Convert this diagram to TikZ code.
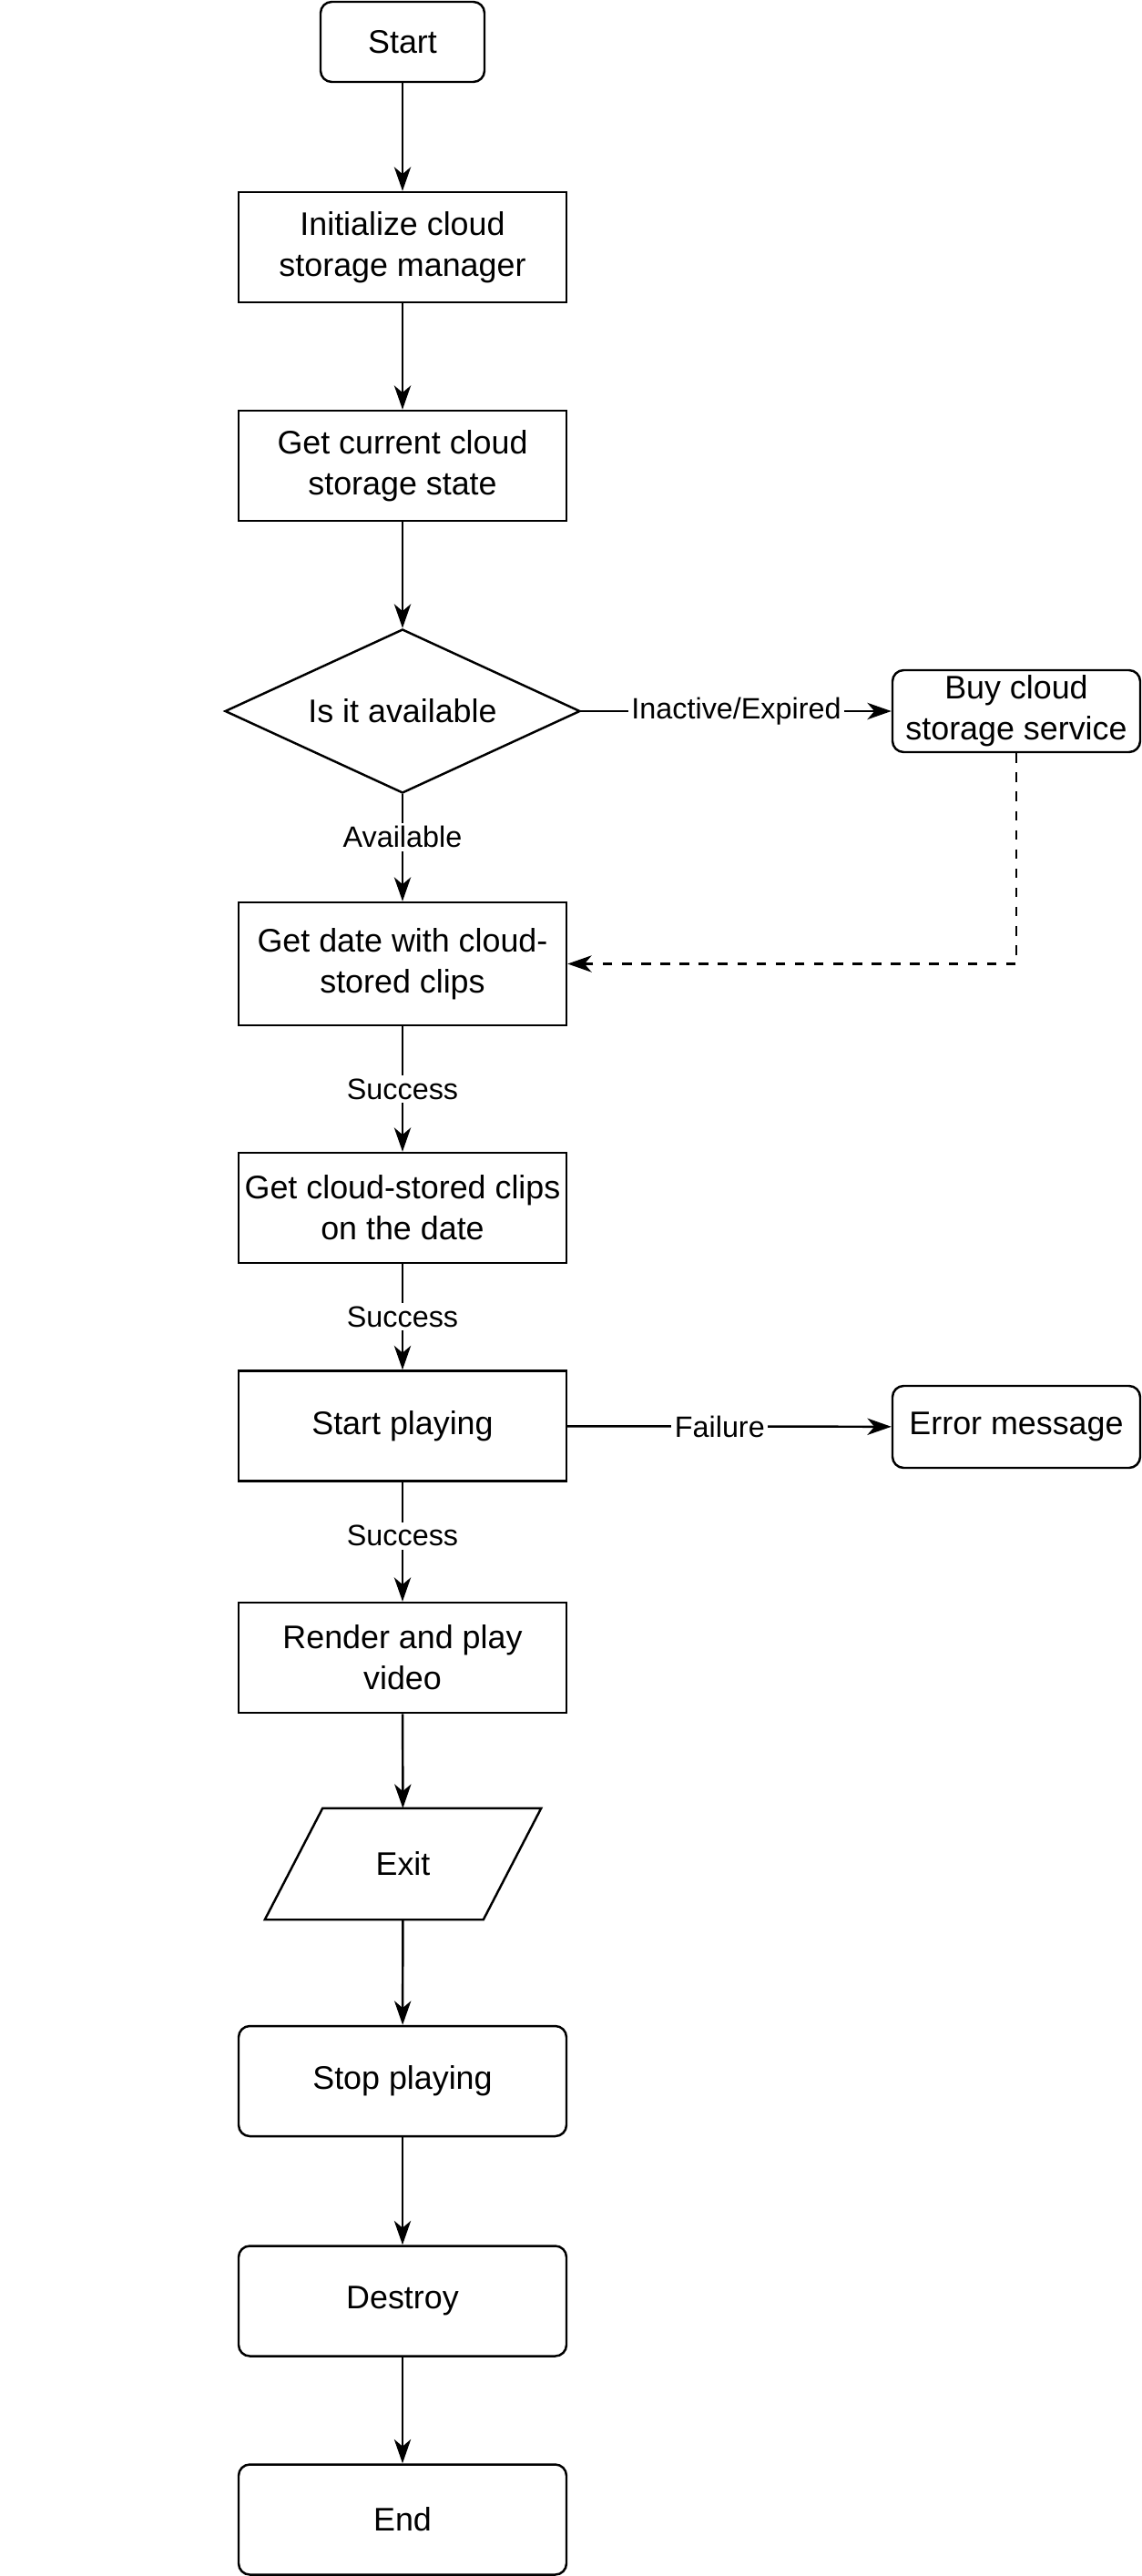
\documentclass[tikz,border=0pt]{standalone}
\usepackage{fontspec}
\setmainfont{Liberation Sans}
\usetikzlibrary{shapes.geometric,arrows.meta}

\begin{document}
\begin{tikzpicture}[
  font=\fontsize{10.2}{12.8}\selectfont,
  line width=0.7pt,
  >={Stealth[length=7.5pt,width=5.2pt,inset=2.2pt]},
  proc/.style={draw,rectangle,minimum width=3.6cm,minimum height=1.21cm,align=center,inner sep=0pt},
  term/.style={proc,rounded corners=3.5pt},
  decide/.style={draw,diamond,aspect=2.17,minimum width=3.9cm,minimum height=1.8cm,inner sep=0pt},
  lbl/.style={fill=white,font=\fontsize{9.2}{11}\selectfont,inner sep=1pt}]
  \useasboundingbox (0,0) rectangle (12.54,-28.29);
  % main flow
  \node[term,minimum width=1.8cm,minimum height=0.88cm] (start) at (4.42,-0.46) {Start};
  \node[proc] (init) at (4.42,-2.715) {Initialize cloud\\storage manager};
  \node[proc] (state) at (4.42,-5.115) {Get current cloud\\storage state};
  \node[decide] (avail) at (4.42,-7.81) {Is it available};
  \node[term,minimum width=2.72cm,minimum height=0.9cm] (buy) at (11.16,-7.81) {Buy cloud\\storage service};
  \node[proc,minimum height=1.35cm] (date) at (4.42,-10.585) {Get date with cloud-\\stored clips};
  \node[proc] (clips) at (4.42,-13.265) {Get cloud-stored clips\\on the date};
  \node[proc] (play) at (4.42,-15.66) {Start playing};
  \node[term,minimum width=2.72cm,minimum height=0.9cm] (error) at (11.16,-15.67) {Error message};
  \node[proc] (render) at (4.42,-18.205) {Render and play\\video};
  \node[minimum width=3.01cm,minimum height=1.2cm,inner sep=0pt] (exit) at (4.425,-20.47) {Exit};
  \draw (exit.south west) -- ++(2.40,0) -- (exit.north east) -- ++(-2.40,0) -- cycle;
  \node[term] (stop) at (4.42,-22.855) {Stop playing};
  \node[term] (destroy) at (4.42,-25.27) {Destroy};
  \node[term] (end) at (4.42,-27.67) {End};
  % connectors
  \draw[->] (start) -- (init);
  \draw[->] (init) -- (state);
  \draw[->] (state) -- (avail);
  \draw[->] (avail) -- node[lbl,pos=0.4] {Available} (date);
  \draw[->] (avail) -- node[lbl] {Inactive/Expired} (buy);
  \draw[->,dash pattern=on 3pt off 3pt] (buy) |- (date);
  \draw[->] (date) -- node[lbl] {Success} (clips);
  \draw[->] (clips) -- node[lbl] {Success} (play);
  \draw[->] (play) -- node[lbl,pos=0.47] {Failure} (error);
  \draw[->] (play) -- node[lbl,pos=0.45] {Success} (render);
  \draw[->] (render) -- (exit);
  \draw[->] (exit) -- (stop);
  \draw[->] (stop) -- (destroy);
  \draw[->] (destroy) -- (end);
\end{tikzpicture}
\end{document}
